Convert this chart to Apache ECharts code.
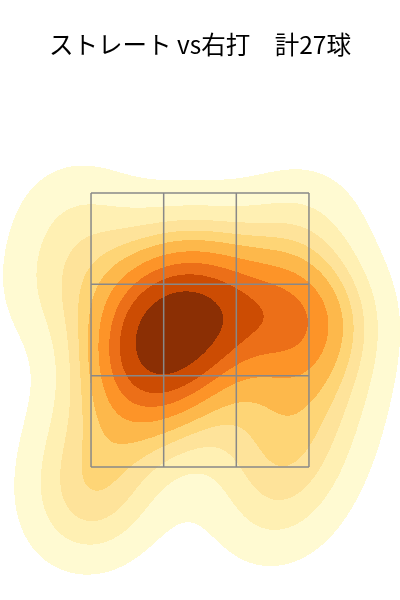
<!DOCTYPE html>
<html><head><meta charset="utf-8">
<script src="https://cdn.jsdelivr.net/npm/echarts@6/dist/echarts.min.js"></script>
<style>html,body{margin:0;padding:0;background:#fff}#c{width:400px;height:600px}</style>
</head><body><div id="c"></div>
<script>
const chartTitle = 'ストレート vs右打\u3000計27球';
// pitch locations (ft): horizontal, height
const pitchX = [-0.390,-0.292,-0.195,-0.097,-0.032,-0.227,-0.422,-0.065,0.065,
                0.403,0.533,0.650,0.682,0.812,
                -0.812,-0.065,0.650,-0.455,
                -0.910,
                -0.676,-0.727,-0.715,
                -0.227,0.390,
                0.650,0.780,
                0.455];
const pitchY = [2.195,2.293,2.390,2.468,2.553,2.228,2.078,2.325,2.585,
                2.598,2.403,2.618,2.260,2.455,
                3.138,2.943,3.105,2.715,
                2.650,
                1.364,1.188,1.708,
                1.805,1.740,
                1.532,1.935,
                1.188];
const zoneX = [-0.708, -0.236, 0.236, 0.708];
const zoneY = [1.5, 2.093, 2.687, 3.28];
const bandColors = ['#fffad2','#fff0b3','#fee39a','#fed576','#fdb84b','#fd9428','#ec6f18','#cc4c03','#8b2f04'];
const levelCount = 10, thresh = 0.05;
const xRange = [-1.2995, 1.2995];
const yRange = [0.636, 4.534];
const nx = 400, ny = 600;

function makeKde(xs, ys) {
  const n = xs.length;
  let mx = 0, my = 0;
  for (let i = 0; i < n; i++) { mx += xs[i]; my += ys[i]; }
  mx /= n; my /= n;
  let cxx = 0, cyy = 0, cxy = 0;
  for (let i = 0; i < n; i++) {
    const a = xs[i] - mx, b = ys[i] - my;
    cxx += a * a; cyy += b * b; cxy += a * b;
  }
  cxx /= (n - 1); cyy /= (n - 1); cxy /= (n - 1);
  const f2 = Math.pow(n, -1 / 3);
  const sxx = cxx * f2, syy = cyy * f2, sxy = cxy * f2;
  const det = sxx * syy - sxy * sxy;
  const ixx = syy / det, iyy = sxx / det, ixy = -sxy / det;
  const norm = 1 / (2 * Math.PI * Math.sqrt(det) * n);
  return function (x, y) {
    let s = 0;
    for (let i = 0; i < n; i++) {
      const a = x - xs[i], b = y - ys[i];
      s += Math.exp(-0.5 * (ixx * a * a + 2 * ixy * a * b + iyy * b * b));
    }
    return s * norm;
  };
}

const dens = makeKde(pitchX, pitchY);
const dx = (xRange[1] - xRange[0]) / nx, dy = (yRange[1] - yRange[0]) / ny;
const vals = new Float64Array(nx * ny);
for (let r = 0; r < ny; r++) {
  const y = yRange[1] - (r + 0.5) * dy;
  for (let c = 0; c < nx; c++) {
    vals[r * nx + c] = dens(xRange[0] + (c + 0.5) * dx, y);
  }
}
// iso-proportion levels (seaborn style)
const sorted = Array.from(vals).sort((a, b) => b - a);
const total = sorted.reduce((a, b) => a + b, 0);
const cum = new Float64Array(sorted.length);
let acc = 0;
for (let i = 0; i < sorted.length; i++) { acc += sorted[i]; cum[i] = acc / total; }
const levels = [];
for (let k = 0; k < levelCount; k++) {
  const p = thresh + (1 - thresh) * k / (levelCount - 1);
  const target = 1 - p;
  let lo = 0, hi = cum.length;
  while (lo < hi) { const mid = (lo + hi) >> 1; if (cum[mid] < target) lo = mid + 1; else hi = mid; }
  levels.push(sorted[Math.min(lo, sorted.length - 1)]);
}
function bandOf(v) {
  if (v < levels[0]) return -1;
  let b = 0;
  for (let k = 1; k < levelCount - 1; k++) if (v >= levels[k]) b = k;
  return b;
}
const runs = [];
for (let r = 0; r < ny; r++) {
  const yT = yRange[1] - r * dy, yB = yRange[1] - (r + 1) * dy;
  let cur = -1, start = 0;
  for (let c = 0; c <= nx; c++) {
    const b = c < nx ? bandOf(vals[r * nx + c]) : -2;
    if (b !== cur) {
      if (cur >= 0) runs.push([xRange[0] + start * dx, xRange[0] + c * dx, yT, yB, cur]);
      cur = b; start = c;
    }
  }
}
const zoneLines = [];
zoneX.forEach(x => zoneLines.push([x, zoneY[0], x, zoneY[zoneY.length - 1]]));
zoneY.forEach(y => zoneLines.push([zoneX[0], y, zoneX[zoneX.length - 1], y]));

const chart = echarts.init(document.getElementById('c'), null, {renderer: 'canvas'});
chart.setOption({
  animation: false,
  backgroundColor: '#fff',
  title: {text: chartTitle, left: 'center', top: 27,
    textStyle: {fontFamily: 'Noto Sans CJK JP', fontSize: 24.5, fontWeight: 'normal', color: '#000'}},
  grid: {left: 0, right: 0, top: 0, bottom: 0},
  xAxis: {type: 'value', min: xRange[0], max: xRange[1], show: false},
  yAxis: {type: 'value', min: yRange[0], max: yRange[1], show: false},
  series: [{
    type: 'custom', silent: true, progressive: 0,
    data: runs,
    encode: {x: [0, 1], y: [2, 3]},
    renderItem: (params, api) => {
      const p0 = api.coord([api.value(0), api.value(2)]);
      const p1 = api.coord([api.value(1), api.value(3)]);
      return {type: 'rect', shape: {x: p0[0], y: p0[1], width: p1[0] - p0[0], height: p1[1] - p0[1]},
        style: {fill: bandColors[api.value(4)]}};
    }
  }, {
    type: 'custom', silent: true,
    data: zoneLines,
    encode: {x: [0, 2], y: [1, 3]},
    renderItem: (params, api) => {
      const p0 = api.coord([api.value(0), api.value(1)]);
      const p1 = api.coord([api.value(2), api.value(3)]);
      return {type: 'line', shape: {x1: p0[0], y1: p0[1], x2: p1[0], y2: p1[1]},
        style: {stroke: '#888', lineWidth: 1.5}};
    }
  }]
});
</script></body></html>
